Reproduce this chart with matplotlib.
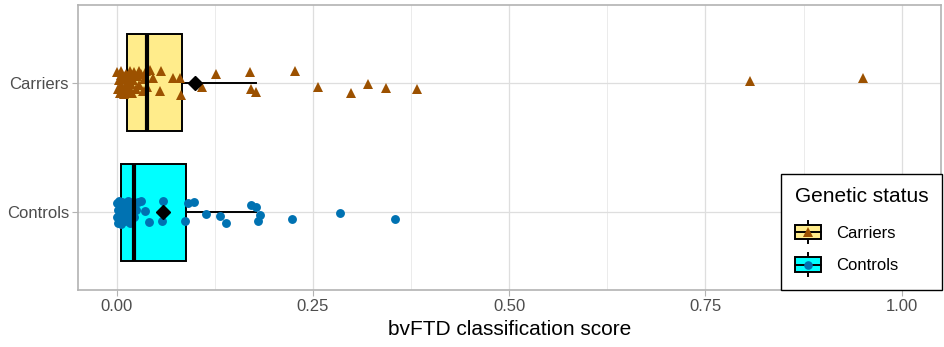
import matplotlib
matplotlib.use("Agg")
import matplotlib.pyplot as plt
from matplotlib.legend_handler import HandlerBase
from matplotlib.patches import Rectangle
from matplotlib.lines import Line2D

plt.rcParams['font.family'] = ['Liberation Sans', 'DejaVu Sans']

groups = ["Controls", "Carriers"]
fills = ["#00FFFF", "#FFEC8B"]
point_colors = ["#0072B2", "#9C5100"]
markers = ["o", "^"]
legend_order = ["Carriers", "Controls"]

# box summaries (Controls, Carriers)
q1 = [0.0059, 0.0131]
med = [0.022, 0.0386]
q3 = [0.0883, 0.0828]
whislo = [0.0, 0.0]
whishi = [0.178, 0.177]
means = [0.0586, 0.0994]

# jittered points: score and vertical jitter (category units)
controls_x = [0.000, 0.001, 0.002, 0.002, 0.003, 0.004, 0.004, 0.005, 0.006, 0.006,
              0.007, 0.008, 0.008, 0.009, 0.010, 0.011, 0.012, 0.013, 0.014, 0.015,
              0.016, 0.017, 0.018, 0.020, 0.022, 0.024, 0.016,
              0.036, 0.041, 0.059, 0.058, 0.0865, 0.091, 0.098, 0.031, 0.027,
              0.114, 0.132, 0.139, 0.171, 0.178, 0.183, 0.180, 0.223, 0.285, 0.354]
controls_dy = [0.07, -0.04, 0.02, -0.08, 0.09, -0.01, 0.05, -0.06, 0.03, -0.09,
               0.08, 0.0, -0.03, 0.06, -0.07, 0.04, -0.05, 0.01, 0.09, -0.02,
               0.07, -0.08, 0.03, 0.05, -0.04, 0.02, 0.08,
               0.012, -0.072, 0.089, -0.065, -0.069, 0.069, 0.077, 0.089, 0.077,
               -0.013, -0.028, -0.085, 0.058, 0.043, -0.018, -0.065, -0.052, -0.008, -0.052]

carriers_x = [0.001, 0.002, 0.003, 0.004, 0.005, 0.005, 0.006, 0.007, 0.008, 0.009,
              0.010, 0.011, 0.012, 0.013, 0.014, 0.015, 0.016, 0.017, 0.018, 0.019,
              0.020, 0.021, 0.022, 0.024, 0.026, 0.028, 0.031, 0.033, 0.035, 0.037,
              0.039, 0.046,
              0.029, 0.042, 0.057, 0.072, 0.081, 0.055, 0.082,
              0.109, 0.127, 0.170, 0.227, 0.171, 0.177, 0.257, 0.298, 0.320, 0.343,
              0.383, 0.807, 0.951]
carriers_dy = [0.08, -0.05, 0.02, -0.08, 0.06, -0.02, 0.09, -0.06, 0.03, -0.09,
               0.05, -0.03, 0.07, 0.0, -0.07, 0.04, -0.04, 0.09, -0.01, 0.06,
               -0.08, 0.02, 0.08, -0.05, 0.05, -0.02, 0.07, -0.06, 0.03, 0.09,
               -0.03, 0.04,
               0.092, 0.1, 0.092, 0.038, 0.038, -0.062, -0.092,
               -0.031, 0.067, 0.085, 0.092, -0.046, -0.075, -0.031, -0.077, -0.013, -0.044,
               -0.052, 0.015, 0.033]

xs = [controls_x, carriers_x]
dys = [controls_dy, carriers_dy]

fig = plt.figure(figsize=(9.44, 3.47), dpi=100)
ax = fig.add_axes([78.3 / 944, 1 - 290 / 347, (941 - 78.3) / 944, (290 - 5) / 347])

stats = []
for i, g in enumerate(groups):
    stats.append(dict(label=g, q1=q1[i], med=med[i], q3=q3[i],
                      whislo=whislo[i], whishi=whishi[i], mean=means[i], fliers=[]))

bp = ax.bxp(stats, positions=[1, 2], widths=0.75, orientation='horizontal',
            patch_artist=True, showcaps=False, showfliers=False, showmeans=True,
            boxprops=dict(edgecolor='black', linewidth=1.4),
            whiskerprops=dict(color='black', linewidth=1.4),
            medianprops=dict(color='black', linewidth=3.0),
            meanprops=dict(marker='D', markerfacecolor='black', markeredgecolor='black',
                           markersize=7.5))
for patch, c in zip(bp['boxes'], fills):
    patch.set_facecolor(c)
    patch.set_zorder(2)
for w in bp['whiskers']:
    w.set_zorder(2)
for m in bp['medians']:
    m.set_zorder(4)
for m in bp['means']:
    m.set_zorder(5)

for i in range(2):
    ys = [i + 1 + d for d in dys[i]]
    ms = 6.4 if markers[i] == 'o' else 7.7
    ax.plot(xs[i], ys, linestyle='none', marker=markers[i], color=point_colors[i],
            markersize=ms, markeredgewidth=0, zorder=3)

ax.set_xlim(-0.0489, 1.050)
ax.set_ylim(0.4, 2.6)
ax.set_xticks([0, 0.25, 0.5, 0.75, 1.0])
ax.set_xticklabels(["0.00", "0.25", "0.50", "0.75", "1.00"])
ax.set_xticks([0.125, 0.375, 0.625, 0.875], minor=True)
ax.set_yticks([1, 2])
ax.set_yticklabels(groups)
ax.grid(True, which='major', color='#DEDEDE', linewidth=0.9, zorder=0)
ax.grid(True, which='minor', axis='x', color='#E8E8E8', linewidth=0.6, zorder=0)
ax.set_axisbelow(True)
ax.tick_params(axis='both', which='major', length=4.2, width=0.8, color='#B3B3B3',
               labelcolor='#4D4D4D', labelsize=12, pad=2.5)
ax.tick_params(axis='x', which='minor', length=0)
for s in ax.spines.values():
    s.set_color('#B3B3B3')
    s.set_linewidth(1.2)
ax.set_xlabel("bvFTD classification score", fontsize=15, labelpad=4)


class KeyHandle:
    def __init__(self, fill, marker, color):
        self.fill = fill
        self.marker = marker
        self.color = color


class HandlerBoxKey(HandlerBase):
    def create_artists(self, legend, orig_handle, xdescent, ydescent, width, height,
                       fontsize, trans):
        cx = -xdescent + width / 2
        cy = -ydescent + height / 2
        bh = height * 0.6
        whisk = Line2D([cx, cx], [-ydescent + 0.5, -ydescent + height - 0.5], color='black',
                       linewidth=1.4, transform=trans)
        box = Rectangle((-xdescent, cy - bh / 2), width, bh, facecolor=orig_handle.fill,
                        edgecolor='black', linewidth=1.4, transform=trans)
        medl = Line2D([-xdescent, -xdescent + width], [cy, cy], color='black',
                      linewidth=1.4, transform=trans)
        ms = 6.2 if orig_handle.marker == 'o' else 7.5
        pt = Line2D([cx], [cy], marker=orig_handle.marker, color=orig_handle.color,
                    markersize=ms, markeredgewidth=0, linestyle='none', transform=trans)
        return [whisk, box, medl, pt]


handles = []
for name in legend_order:
    i = groups.index(name)
    handles.append(KeyHandle(fills[i], markers[i], point_colors[i]))

leg = ax.legend(handles, legend_order, handler_map={KeyHandle: HandlerBoxKey()},
                title="Genetic status", loc='lower right',
                bbox_to_anchor=(942 / 944, 1 - 290 / 347), bbox_transform=fig.transFigure,
                borderaxespad=0, fontsize=12, title_fontsize=15, frameon=True,
                fancybox=False, framealpha=1, edgecolor='black',
                handlelength=1.6, handleheight=1.8, handletextpad=0.9,
                labelspacing=0.52, borderpad=0.82, alignment='left')
leg._legend_box.sep = 10.1  # a bit more room under the title
leg.get_frame().set_linewidth(1.0)
leg.set_zorder(10)

fig.savefig("out.png", dpi=100)
